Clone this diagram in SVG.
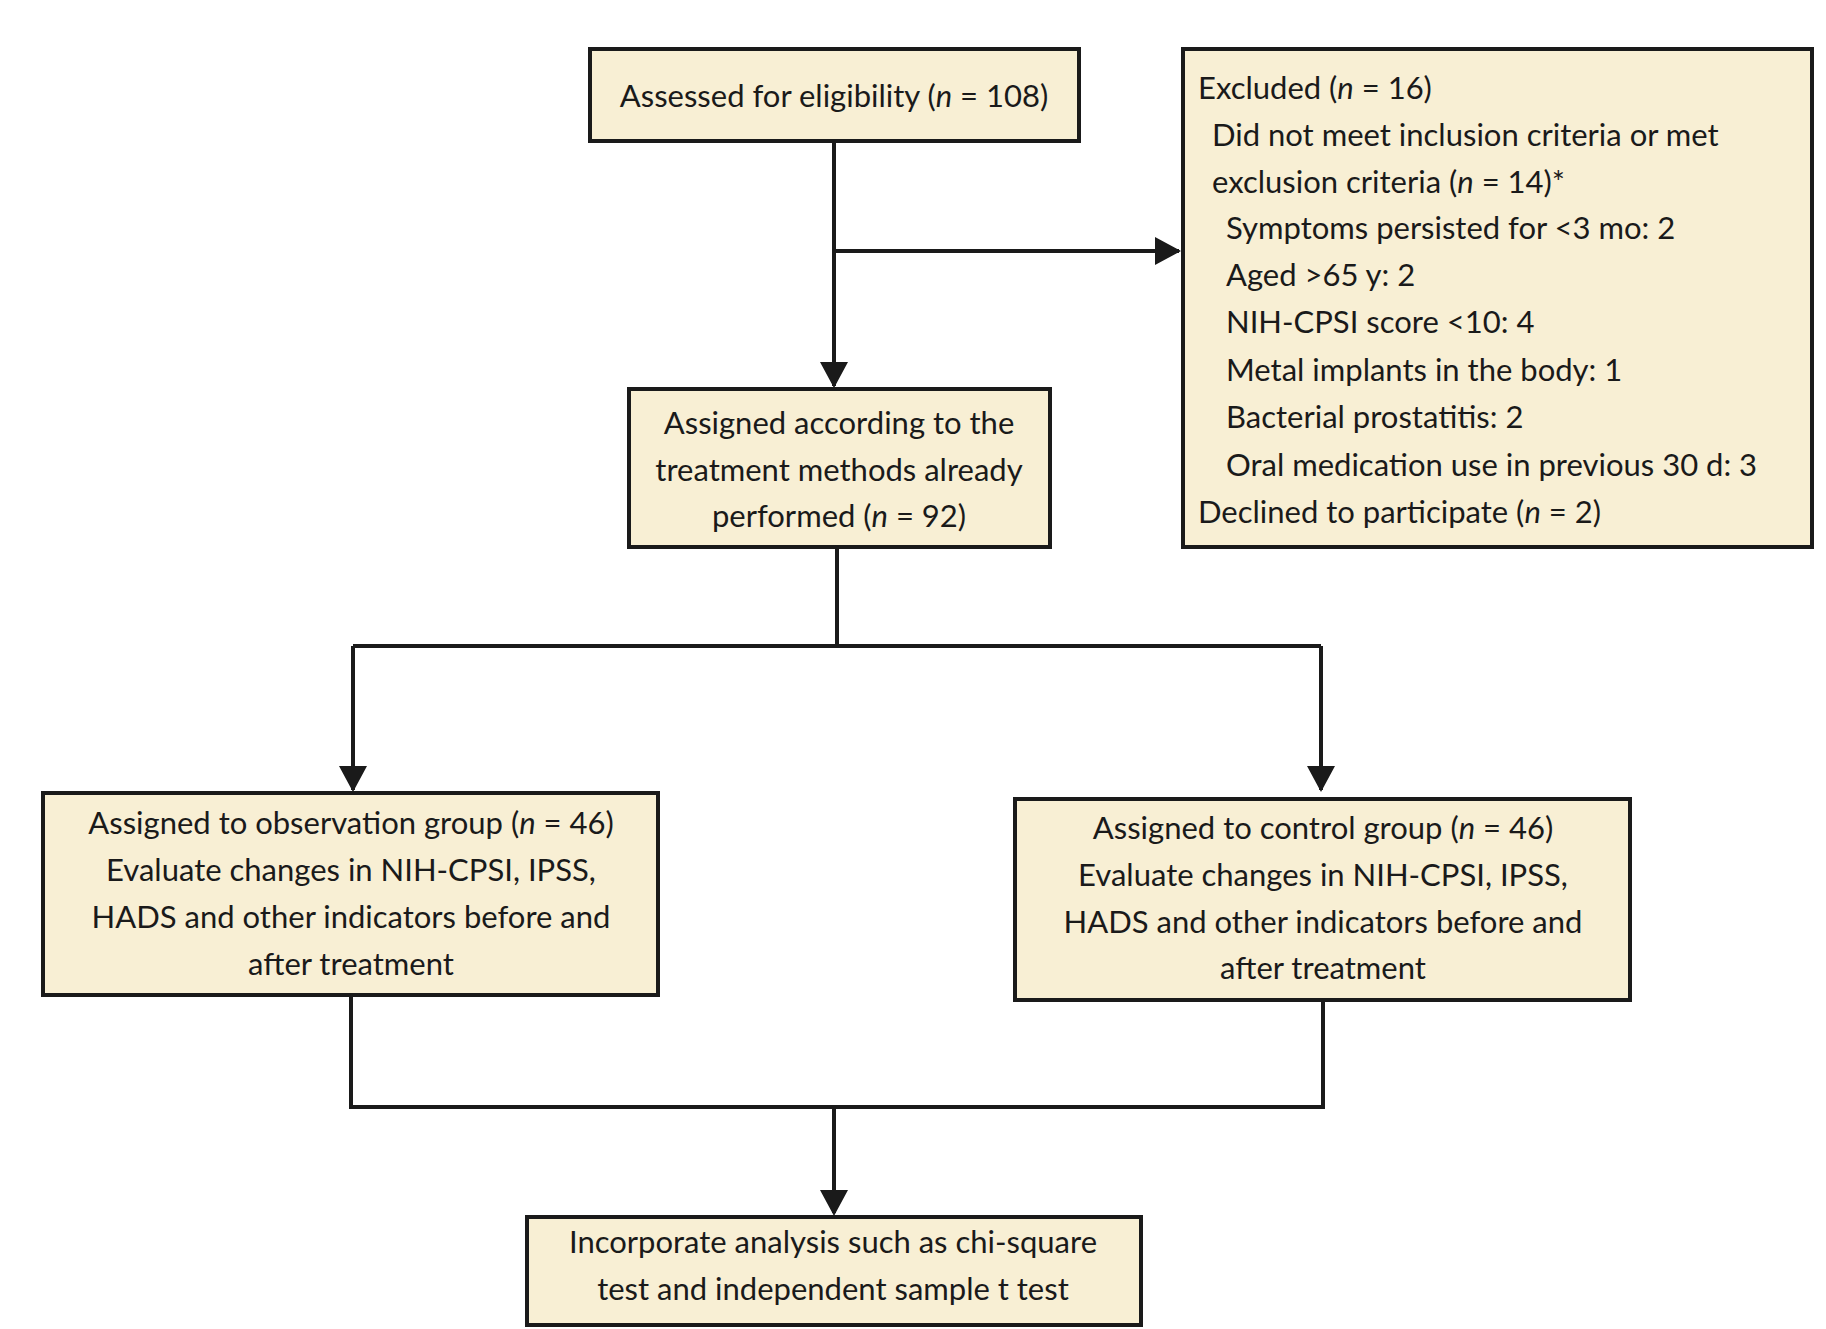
<svg xmlns="http://www.w3.org/2000/svg" width="1826" height="1329" viewBox="0 0 1826 1329">
<defs>
<style>
.b{fill:#f8efd4;stroke:#1a1a1a;stroke-width:4}
text{font-family:Lato,"Noto Sans",sans-serif;font-size:31px;fill:#1a1a1a}
.c{text-anchor:middle}
.l{fill:none;stroke:#1a1a1a;stroke-width:4}
</style>
<marker id="a" markerWidth="10" markerHeight="10" refX="9" refY="5" orient="auto" markerUnits="userSpaceOnUse" viewBox="0 0 10 10"><path d="M0,0L10,5L0,10z" fill="#1a1a1a"/></marker>
</defs>
<rect width="1826" height="1329" fill="#fff"/>
<g id="connectors">
<path class="l" d="M834,141V386" marker-end="url(#a)"/>
<path class="l" d="M834,251H1179" marker-end="url(#a)"/>
<path class="l" d="M837,547V646M353,646H1321M353,646V790M1321,646V790"/>
<path class="l" d="M351,995V1107H1323V1000M834,1107V1213"/>
<path d="M339,766h28l-14,26z M1307,766h28l-14,26z M820,362h28l-14,26z M1155,237v28l26,-14z M820,1190h28l-14,26z" fill="#1a1a1a"/>
</g>
<g id="n1"><rect class="b" x="590" y="49" width="489" height="92"/><text class="c" x="834" y="107">Assessed for eligibility (<tspan font-style="italic">n</tspan> = 108)</text></g>
<g id="n2"><rect class="b" x="1183" y="49" width="629" height="498"/>
<text x="1198" y="99">Excluded (<tspan font-style="italic">n</tspan> = 16)</text>
<text x="1212" y="146">Did not meet inclusion criteria or met</text>
<text x="1212" y="193">exclusion criteria (<tspan font-style="italic">n</tspan> = 14)*</text>
<text x="1226" y="239">Symptoms persisted for &lt;3 mo: 2</text>
<text x="1226" y="286">Aged &gt;65 y: 2</text>
<text x="1226" y="333">NIH-CPSI score &lt;10: 4</text>
<text x="1226" y="381">Metal implants in the body: 1</text>
<text x="1226" y="428">Bacterial prostatitis: 2</text>
<text x="1226" y="476">Oral medication use in previous 30 d: 3</text>
<text x="1198" y="523">Declined to participate (<tspan font-style="italic">n</tspan> = 2)</text></g>
<g id="n3"><rect class="b" x="629" y="389" width="421" height="158"/>
<text class="c" x="839" y="434">Assigned according to the</text>
<text class="c" x="839" y="481">treatment methods already</text>
<text class="c" x="839" y="527">performed (<tspan font-style="italic">n</tspan> = 92)</text></g>
<g id="n4"><rect class="b" x="43" y="793" width="615" height="202"/>
<text class="c" x="351" y="834">Assigned to observation group (<tspan font-style="italic">n</tspan> = 46)</text>
<text class="c" x="351" y="881">Evaluate changes in NIH-CPSI, IPSS,</text>
<text class="c" x="351" y="928">HADS and other indicators before and</text>
<text class="c" x="351" y="975">after treatment</text></g>
<g id="n5"><rect class="b" x="1015" y="799" width="615" height="201"/>
<text class="c" x="1323" y="839">Assigned to control group (<tspan font-style="italic">n</tspan> = 46)</text>
<text class="c" x="1323" y="886">Evaluate changes in NIH-CPSI, IPSS,</text>
<text class="c" x="1323" y="933">HADS and other indicators before and</text>
<text class="c" x="1323" y="979">after treatment</text></g>
<g id="n6"><rect class="b" x="527" y="1217" width="614" height="108"/>
<text class="c" x="833" y="1253">Incorporate analysis such as chi-square</text>
<text class="c" x="833" y="1300">test and independent sample t test</text></g>
</svg>
